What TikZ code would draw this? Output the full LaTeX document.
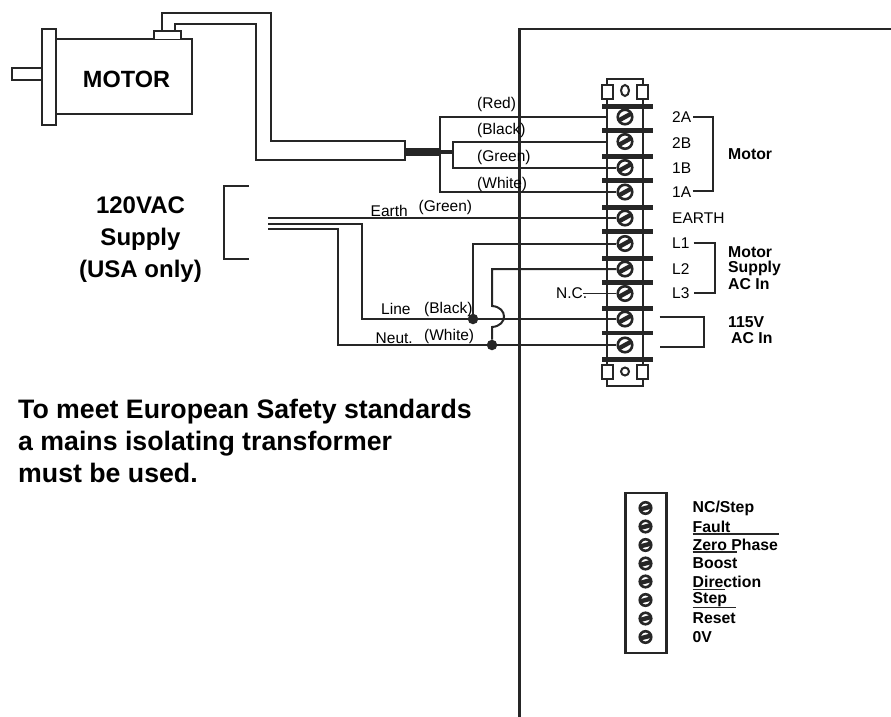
\documentclass[tikz,border=0pt]{standalone}
\usepackage{fontspec}
\usepackage{tikz}
\usetikzlibrary{positioning}
\setmainfont{Liberation Sans}

\begin{document}
\begin{tikzpicture}[x=1pt,y=-1pt,
    wire/.style={line width=2pt,black!85},
    thinwire/.style={line width=1.5pt,black!85},
    busbar/.style={line width=4.6pt,black!85},
    screw/.style={circle,draw=black!85,fill=white,line width=2.6pt,minimum size=14.5pt,inner sep=0pt,
      path picture={\draw[line width=4.4pt,black!85] ([yshift=-4pt]path picture bounding box.west) -- ([yshift=4pt]path picture bounding box.east);}},
    smallscrew/.style={screw,line width=2.6pt,minimum size=11.5pt,
      path picture={\draw[line width=4.4pt,black!85] ([yshift=-1.5pt]path picture bounding box.west) -- ([yshift=1.5pt]path picture bounding box.east);}},
    joint/.style={circle,fill=black!85,inner sep=0pt,minimum size=10.5pt},
    smalltxt/.style={font=\fontsize{15.5}{16}\selectfont,anchor=west,inner sep=0pt},
    boldtxt/.style={font=\fontsize{15.8}{16}\selectfont\bfseries,anchor=west,inner sep=0pt},
    bigtxt/.style={font=\fontsize{24}{32}\selectfont\bfseries,inner sep=0pt},
    notetxt/.style={font=\fontsize{26.7}{32}\selectfont\bfseries,inner sep=0pt}]
    \useasboundingbox (0,0) rectangle (891,717);

    \draw[wire,line width=2.2pt] (891,29) -- (519.5,29) -- (519.5,717);

    \coordinate (railtop) at (607,79);
    \draw[wire] (railtop) rectangle (642.5,386);
    \foreach \y in {106.5,130.5,156.5,180.5,207.5,231.5,258.5,282.5,308.5,333,359.5}
      \draw[busbar] (602,\y) -- (652.5,\y);

    \foreach \y/\n in {117/1,141.5/2,167.5/3,192/4,218/5,243.5/6,269/7,293.5/8,319/9,345/10}
      \node[screw] (s\n) at (625,\y) {};

    \draw[wire,fill=white] (602,84.5) rectangle (613,98.5) (637,84.5) rectangle (648,98.5);
    \draw[wire,fill=white] (602,364.5) rectangle (613,379) (637,364.5) rectangle (648,379);
    \draw[wire] (625,90.5) ellipse (4 and 5.5) (625,371.5) circle (4);

    \draw[wire] (42,29) rectangle (56,125) (12,68) rectangle (42,80) (56,39) rectangle (192,114);
    \draw[wire,fill=white] (154,39) -- (154,31) -- (181,31) -- (181,39);
    \node[font=\fontsize{23.5}{24}\selectfont\bfseries,inner sep=0pt] (motor) at (126.5,79) {MOTOR};

    \coordinate (motorout) at (162,31);
    \coordinate (motorin) at (175,31);
    \coordinate (bundle) at (405,151.5);
    \coordinate (branch) at (439.5,151.5);
    \coordinate (fork) at (452.5,151.5);
    \draw[wire] (motorout) |- (271,13) -- (271,141) -- (405,141) -- (405,160) -- (256,160) -- (256,24) -| (motorin);
    \draw[line width=8pt,black!85] (bundle) -- (branch);
    \draw[line width=4pt,black!85] (branch) -- (fork);
    \draw[wire] (s1 -| railtop) -- (s1 -| branch) -- (s4 -| branch) -- (s4);
    \draw[wire] (s2 -| railtop) -- (s2 -| fork) -- (s3 -| fork) -- (s3);

    \coordinate (earth) at (268,218);
    \coordinate (line) at (268,223.5);
    \coordinate (neut) at (268,229);
    \node[joint] (linedot) at (473,319) {};
    \node[joint] (neutdot) at (492,345) {};
    \draw[wire] (earth) -- (s5);
    \draw[wire] (line) -| (362,319) -- (s9);
    \draw[wire] (neut) -| (338,345) -- (s10);
    \draw[wire] (linedot) |- (s6);
    \draw[wire] (neutdot) -- (492,327) .. controls (508,326) and (508,307) .. (492,306) |- (s7);

    \draw[wire] (248.5,186) -- (223.5,186) -- (223.5,258.5) -- (248.5,258.5);

    \node[smalltxt] (red) at (477,104) {(Red)};
    \node[smalltxt] (black) at (477,130.5) {(Black)};
    \node[smalltxt] (green) at (477,157) {(Green)};
    \node[smalltxt] (white) at (477,184) {(White)};
    \node[smalltxt] (earthtxt) at (370.5,211) {Earth};
    \node[smalltxt] (earthcol) at (418.5,207.5) {(Green)};
    \node[smalltxt] (linetxt) at (381,309) {Line};
    \node[smalltxt] (linecol) at (424,309) {(Black)};
    \node[smalltxt] (neuttxt) at (375.5,338.5) {Neut.};
    \node[smalltxt] (neutcol) at (424,336) {(White)};
    \node[smalltxt] (nc) at (556,293.5) {N.C.};
    \draw[thinwire] (583,293.5) -- (s8);

    \foreach \y/\n/\t in {117/a/2A,143/b/2B,168/c/1B,192.5/d/1A,218/e/EARTH,243.5/f/L1,269/g/L2,293.5/h/L3}
      \node[smalltxt] (t\n) at (672,\y) {\t};
    \draw[wire] (692.5,191) -- (712.5,191) -- (712.5,117) -- (692.5,117);
    \draw[wire] (693.5,242.5) -- (714.5,242.5) -- (714.5,293) -- (693.5,293);
    \draw[wire] (659.5,317) -- (704,317) -- (704,346.5) -- (659.5,346.5);

    \node[boldtxt] (motorlab) at (728,154.5) {Motor};
    \node[boldtxt] (supa) at (728,252.5) {Motor};
    \node[boldtxt] (supb) at (728,268.5) {Supply};
    \node[boldtxt] (supc) at (728,284.5) {AC In};
    \node[boldtxt] (vola) at (728,322) {115V};
    \node[boldtxt] (volb) at (731,338) {AC In};

    \node[bigtxt,align=center] (supply) at (140.5,240) {120VAC\\Supply\\(USA only)};
    \node[notetxt,align=left,anchor=west] (safety) at (18,441) {To meet European Safety standards\\a mains isolating transformer\\must be used.};

    \draw[wire,line width=2.2pt] (625.5,493) rectangle (666.5,653);
    \foreach \y/\n/\t in {508/1/NC\slash Step,526.5/2/Fault,545/3/Zero Phase,563.5/4/Boost,581.5/5/Direction,600/6/Step,618.5/7/Reset,637/8/0V} {
      \node[smallscrew] (c\n) at (645.5,\y) {};
      \node[boldtxt] (l\n) at (692.5,\y) {\t};
    }
    \draw[thinwire] (692.5,534) -- (778.5,534) (692.5,552) -- (736.5,552)
      (692.5,589.5) -- (725,589.5) (692.5,607.5) -- (736,607.5);
  \end{tikzpicture}
\end{document}
